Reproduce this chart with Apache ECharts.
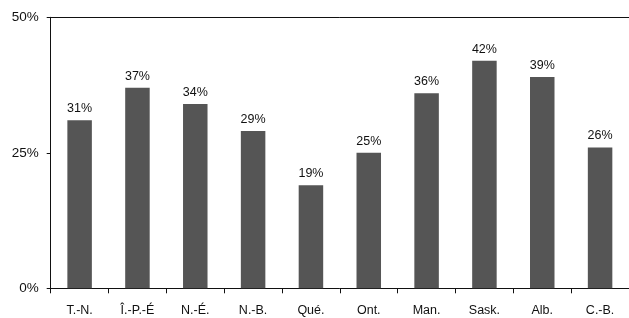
<!DOCTYPE html>
<html><head><meta charset="utf-8">
<script src="https://cdn.jsdelivr.net/npm/echarts@6/dist/echarts.min.js"></script>
<style>html,body{margin:0;padding:0;background:#fff}#c{width:629px;height:318px}</style>
</head><body><div id="c"></div>
<script>
const categories = ["T.-N.", "Î.-P.-É", "N.-É.", "N.-B.", "Qué.", "Ont.", "Man.", "Sask.", "Alb.", "C.-B."];
const values = [31, 37, 34, 29, 19, 25, 36, 42, 39, 26];
const yTicks = [0, 25, 50];

const chart = echarts.init(document.getElementById('c'), null, {renderer: 'canvas'});
const font = 'Liberation Sans, Arial, sans-serif';
chart.setOption({
  animation: false,
  grid: {left: 50.7, right: -7.3, top: 17.3, bottom: 29.7, containLabel: false},
  xAxis: [{
    type: 'category', data: categories, position: 'bottom',
    axisLine: {lineStyle: {color: '#111', width: 1}},
    axisTick: {show: true, length: 5, lineStyle: {color: '#111'}},
    axisLabel: {color: '#111', fontFamily: font, fontSize: 12.5, margin: 16, interval: 0}
  }, {
    type: 'category', data: categories, position: 'top',
    axisLine: {show: true, lineStyle: {color: '#111', width: 1}},
    axisTick: {show: false}, axisLabel: {show: false}
  }],
  yAxis: {
    type: 'value', min: 0, max: 50, interval: 25,
    axisLine: {show: true, lineStyle: {color: '#111'}},
    axisTick: {show: true, inside: false, length: 4, lineStyle: {color: '#111'}},
    splitLine: {show: false},
    axisLabel: {color: '#111', fontFamily: font, fontSize: 13.5, margin: 12,
      formatter: v => yTicks.includes(v) ? v + '%' : ''}
  },
  series: [{
    type: 'bar', data: values, barWidth: 24.5, xAxisIndex: 0,
    itemStyle: {color: '#555555'},
    label: {show: true, position: 'top', distance: 5, color: '#111', fontFamily: font, fontSize: 12.5,
      formatter: p => p.value + '%'}
  }]
});
</script></body></html>
